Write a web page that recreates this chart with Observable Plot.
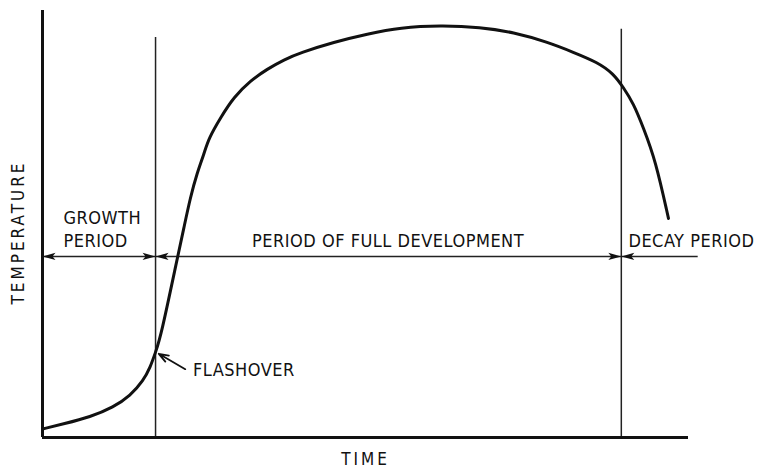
<!DOCTYPE html>
<html>
<head>
<meta charset="utf-8">
<script src="https://cdn.jsdelivr.net/npm/d3@7"></script>
<script src="https://cdn.jsdelivr.net/npm/@observablehq/plot@0.6"></script>
<style>
  html, body { margin: 0; padding: 0; background: #fff; }
</style>
</head>
<body>
<div id="chart"></div>
<script>
// Temperature–time curve of a compartment fire (schematic, arbitrary units 0–100)
const time = [0, 3.3, 7.4, 11.0, 13.6, 15.6, 16.7, 17.5, 18.3, 20.9, 21.9, 22.9, 23.9, 25.0, 25.7, 27.6, 29.6, 32.2, 34.8, 37.4, 39.9, 45.1, 50.3, 55.4, 61.6, 67.8, 72.9, 78.2, 82.2, 85.9, 88.4, 89.9, 91.5, 93.0, 94.9, 96.9];
const temperature = [2.0, 3.2, 4.8, 7.1, 9.8, 13.3, 16.5, 20.0, 23.5, 42.2, 49.2, 56.3, 61.8, 66.4, 70.0, 75.0, 79.7, 83.6, 86.3, 88.5, 90.1, 92.6, 94.5, 96.0, 96.5, 96.1, 94.9, 92.6, 90.2, 87.9, 85.2, 82.0, 78.2, 72.6, 64.9, 51.3];

// Phase boundaries (time) and the height of their marker lines
const boundaryTime = [17.5, 89.6];
const boundaryTop = [93.7, 95.6];

// Period span arrows: start, end, which ends carry heads
const spanStart = [0, 17.5, 89.6];
const spanEnd = [17.5, 89.6, 101.5];
const spanHeads = [["start", "end"], ["start", "end"], ["start"]];
const spanLevel = 42.4;

// Text labels
const labelText = ["GROWTH", "PERIOD", "PERIOD OF FULL DEVELOPMENT", "DECAY PERIOD", "FLASHOVER"];
const labelTime = [3.25, 3.25, 53.5, 90.7, 23.3];
const labelTemp = [49.9, 44.5, 44.5, 44.5, 14.5];
const labelAnchor = ["start", "start", "middle", "start", "start"];

// Flashover pointer (from label to curve)
const pointerFrom = [22.1, 16.0];
const pointerTo = [18.0, 19.6];

const axisTitles = ["TIME", "TEMPERATURE"];

// ---- build tables ----
const curve = time.map((t, i) => ({t, T: temperature[i]}));
const boundaries = boundaryTime.map((t, i) => ({t, top: boundaryTop[i]}));
const spans = spanStart.map((s, i) => ({x1: s, x2: spanEnd[i]}));
const heads = [];
spans.forEach((s, i) => {
  spanHeads[i].forEach(h => heads.push({t: h === "start" ? s.x1 : s.x2, rot: h === "start" ? 180 : 0}));
});
const labels = labelText.map((text, i) => ({text, t: labelTime[i], T: labelTemp[i], anchor: labelAnchor[i]}));

// filled arrowhead symbol with its tip at the origin, pointing right
const arrowHead = {
  draw(context) {
    context.moveTo(0, 0);
    context.lineTo(-13, -3.6);
    context.lineTo(-10, 0);
    context.lineTo(-13, 3.6);
    context.closePath();
  }
};

const font = "'DejaVu Sans Condensed', 'Liberation Sans Narrow', 'DejaVu Sans', sans-serif";
const textOpts = {x: "t", y: "T", text: "text", lineAnchor: "bottom", fontSize: 18, fontFamily: font, fill: "#111"};

const plot = Plot.plot({
  width: 759,
  height: 468,
  marginLeft: 42,
  marginRight: 71,
  marginTop: 10,
  marginBottom: 31,
  x: {domain: [0, 100], axis: null},
  y: {domain: [0, 100], axis: null},
  style: {background: "white", color: "#111"},
  marks: [
    // phase boundary lines
    Plot.ruleX(boundaries, {x: "t", y1: 0, y2: "top", stroke: "#222", strokeWidth: 1.5}),
    // span arrow lines
    Plot.ruleY(spans, {y: () => spanLevel, x1: "x1", x2: "x2", stroke: "#222", strokeWidth: 1.5}),
    // arrow heads
    Plot.dot(heads, {x: "t", y: () => spanLevel, symbol: arrowHead, rotate: "rot", fill: "#111", stroke: "none", r: 5}),
    // axes
    Plot.ruleX([0], {y1: 0, y2: 100, stroke: "#111", strokeWidth: 3}),
    Plot.ruleY([0], {x1: 0, x2: 100, stroke: "#111", strokeWidth: 3}),
    // temperature curve
    Plot.line(curve, {x: "t", y: "T", curve: "basis", stroke: "#111", strokeWidth: 3}),
    // flashover pointer
    Plot.arrow([{}], {x1: () => pointerFrom[0], y1: () => pointerFrom[1], x2: () => pointerTo[0], y2: () => pointerTo[1],
      stroke: "#111", strokeWidth: 1.8, headLength: 9, headAngle: 40}),
    // labels
    Plot.text(labels.filter(d => d.anchor === "start"), {...textOpts, textAnchor: "start"}),
    Plot.text(labels.filter(d => d.anchor === "middle"), {...textOpts, textAnchor: "middle"}),
    // axis titles
    Plot.text([axisTitles[0]], {x: () => 50, y: () => -6.4, text: d => d, textAnchor: "middle", lineAnchor: "bottom",
      fontSize: 17, fontFamily: font, fill: "#111"}),
    Plot.text([axisTitles[1]], {x: () => -3.7, y: () => 48, text: d => d, rotate: -90, textAnchor: "middle", lineAnchor: "middle",
      fontSize: 17, fontFamily: font, fill: "#111"})
  ]
});
// letter spacing of the hand-lettered captions
d3.select(plot).selectAll("text").each(function () {
  const s = this.textContent;
  this.setAttribute("letter-spacing", axisTitles.includes(s) ? "3" : "0.5");
});
document.getElementById("chart").appendChild(plot);
</script>
</body>
</html>
